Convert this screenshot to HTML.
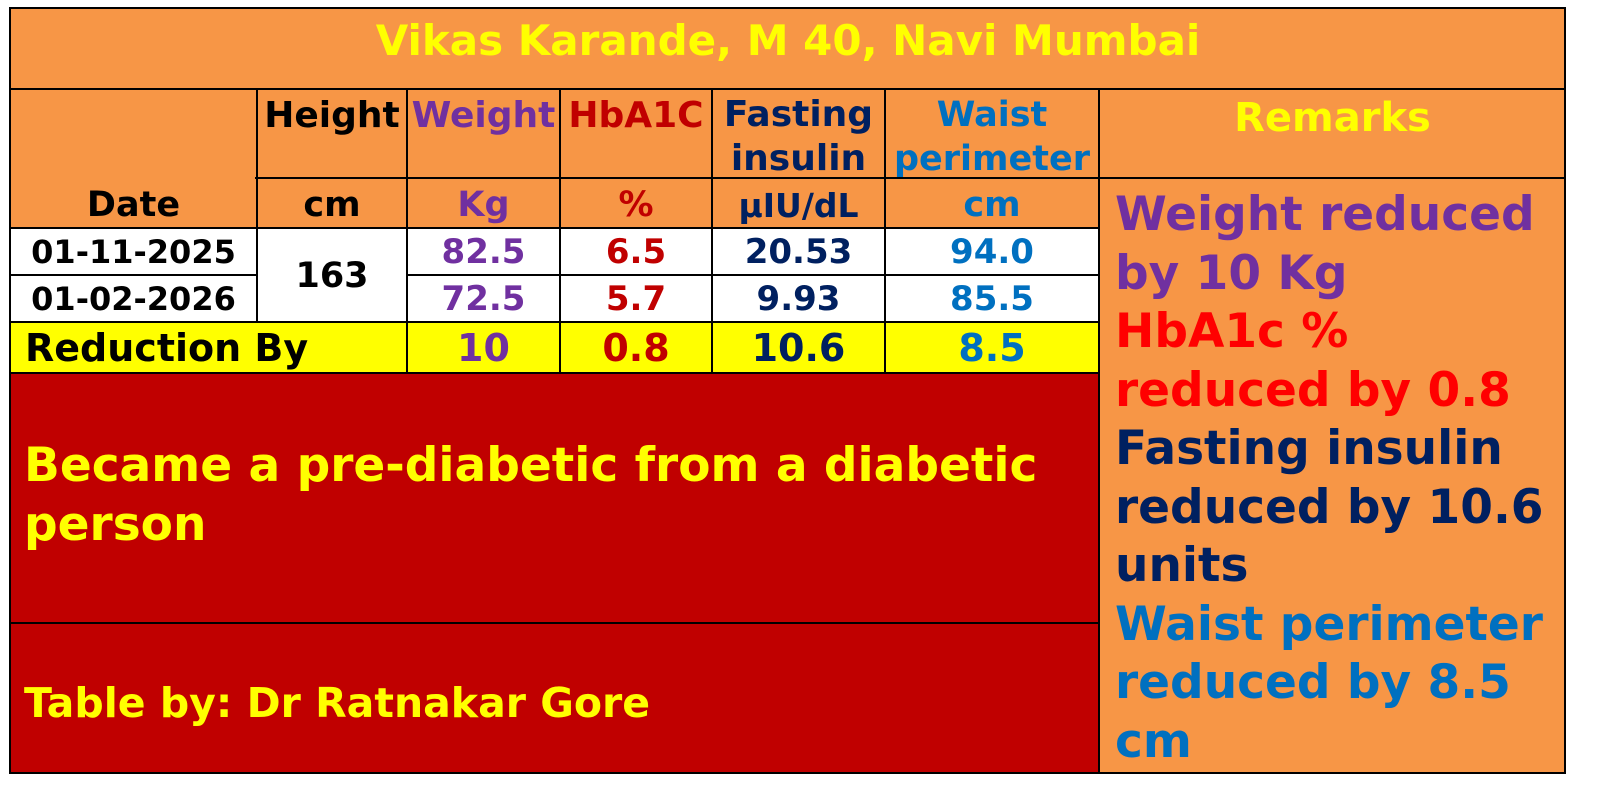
<!DOCTYPE html>
<html><head><meta charset="utf-8"><style>
body{margin:0;width:1600px;height:797px;background:#fff;position:relative;overflow:hidden;font-family:"DejaVu Sans","Liberation Sans",sans-serif;font-weight:bold}
div{position:absolute;box-sizing:border-box}
.c{display:flex;align-items:center;justify-content:center;text-align:center;white-space:nowrap}
.h{background:#000}
</style></head><body>
<div style="left:10px;top:8px;width:1556px;height:766px;background:#F79646"></div>
<div style="left:10px;top:228px;width:1090px;height:94px;background:#fff"></div>
<div style="left:10px;top:322px;width:1090px;height:51px;background:#FFFF00"></div>
<div style="left:10px;top:373px;width:1090px;height:401px;background:#C00000"></div>
<!-- lines -->
<div class="h" style="left:10px;top:7px;width:1556px;height:2px"></div>
<div class="h" style="left:10px;top:772px;width:1556px;height:2px"></div>
<div class="h" style="left:9px;top:7px;width:2px;height:767px"></div>
<div class="h" style="left:1564px;top:7px;width:2px;height:767px"></div>
<div class="h" style="left:10px;top:88px;width:1556px;height:2px"></div>
<div class="h" style="left:255px;top:177px;width:1311px;height:2px"></div>
<div class="h" style="left:10px;top:227px;width:1090px;height:2px"></div>
<div class="h" style="left:10px;top:274px;width:247px;height:2px"></div>
<div class="h" style="left:407px;top:274px;width:693px;height:2px"></div>
<div class="h" style="left:10px;top:321px;width:1090px;height:2px"></div>
<div class="h" style="left:10px;top:372px;width:1090px;height:2px"></div>
<div class="h" style="left:10px;top:622px;width:1090px;height:2px"></div>
<div class="h" style="left:256px;top:88px;width:2px;height:234px"></div>
<div class="h" style="left:406px;top:88px;width:2px;height:285px"></div>
<div class="h" style="left:559px;top:88px;width:2px;height:285px"></div>
<div class="h" style="left:711px;top:88px;width:2px;height:285px"></div>
<div class="h" style="left:884px;top:88px;width:2px;height:285px"></div>
<div class="h" style="left:1098px;top:88px;width:2px;height:686px"></div>
<!-- text -->
<div class="c" style="left:10px;top:10px;width:1556px;height:60px;color:#FFFF00;font-size:42px">Vikas Karande, M 40, Navi Mumbai</div>
<div class="c" style="left:257px;top:92px;width:150px;height:46px;font-size:36px;color:#000">Height</div>
<div class="c" style="left:407px;top:92px;width:153px;height:46px;font-size:36px;color:#7030A0">Weight</div>
<div class="c" style="left:560px;top:92px;width:152px;height:46px;font-size:36px;color:#C00000">HbA1C</div>
<div class="c" style="left:712px;top:92px;width:173px;height:90px;font-size:36px;color:#002060;line-height:44px;flex-direction:column"><span>Fasting</span><span>insulin</span></div>
<div class="c" style="left:885px;top:92px;width:214px;height:90px;font-size:35px;color:#0070C0;line-height:44px;flex-direction:column"><span>Waist</span><span>perimeter</span></div>
<div class="c" style="left:1100px;top:92px;width:465px;height:52px;font-size:40px;color:#FFFF00">Remarks</div>
<div class="c" style="left:10px;top:182px;width:247px;height:46px;font-size:35px;color:#000">Date</div>
<div class="c" style="left:257px;top:182px;width:150px;height:46px;font-size:35px;color:#000">cm</div>
<div class="c" style="left:407px;top:182px;width:153px;height:46px;font-size:35px;color:#7030A0">Kg</div>
<div class="c" style="left:560px;top:182px;width:152px;height:46px;font-size:35px;color:#C00000">%</div>
<div class="c" style="left:712px;top:182px;width:173px;height:46px;font-size:33px;color:#002060">µIU/dL</div>
<div class="c" style="left:885px;top:182px;width:214px;height:46px;font-size:35px;color:#0070C0">cm</div>
<div class="c" style="left:10px;top:229px;width:247px;height:46px;font-size:32px;color:#000">01-11-2025</div>
<div class="c" style="left:10px;top:276px;width:247px;height:46px;font-size:32px;color:#000">01-02-2026</div>
<div class="c" style="left:257px;top:229px;width:150px;height:93px;font-size:35px;color:#000">163</div>
<div class="c" style="left:407px;top:229px;width:153px;height:46px;font-size:34px;color:#7030A0">82.5</div>
<div class="c" style="left:407px;top:276px;width:153px;height:46px;font-size:34px;color:#7030A0">72.5</div>
<div class="c" style="left:560px;top:229px;width:152px;height:46px;font-size:34px;color:#C00000">6.5</div>
<div class="c" style="left:560px;top:276px;width:152px;height:46px;font-size:34px;color:#C00000">5.7</div>
<div class="c" style="left:712px;top:229px;width:173px;height:46px;font-size:34px;color:#002060">20.53</div>
<div class="c" style="left:712px;top:276px;width:173px;height:46px;font-size:34px;color:#002060">9.93</div>
<div class="c" style="left:885px;top:229px;width:214px;height:46px;font-size:34px;color:#0070C0">94.0</div>
<div class="c" style="left:885px;top:276px;width:214px;height:46px;font-size:34px;color:#0070C0">85.5</div>
<div class="c" style="left:25px;top:323px;width:370px;height:50px;font-size:38px;color:#000;justify-content:flex-start">Reduction By</div>
<div class="c" style="left:407px;top:323px;width:153px;height:50px;font-size:38px;color:#7030A0">10</div>
<div class="c" style="left:560px;top:323px;width:152px;height:50px;font-size:38px;color:#C00000">0.8</div>
<div class="c" style="left:712px;top:323px;width:173px;height:50px;font-size:38px;color:#002060">10.6</div>
<div class="c" style="left:885px;top:323px;width:214px;height:50px;font-size:38px;color:#0070C0">8.5</div>
<div style="left:24px;top:436px;width:1070px;font-size:47px;line-height:59px;color:#FFFF00">Became a pre-diabetic from a diabetic person</div>
<div style="left:24px;top:680px;font-size:41px;line-height:46px;color:#FFFF00;white-space:nowrap">Table by: Dr Ratnakar Gore</div>
<div style="left:1115px;top:186px;width:460px;font-size:47px;line-height:58.5px;white-space:nowrap">
<div style="position:static;color:#7030A0">Weight reduced<br>by 10 Kg</div>
<div style="position:static;color:#FF0000">HbA1c %<br>reduced by 0.8</div>
<div style="position:static;color:#002060">Fasting insulin<br>reduced by 10.6<br>units</div>
<div style="position:static;color:#0070C0">Waist perimeter<br>reduced by 8.5<br>cm</div>
</div>
</body></html>
